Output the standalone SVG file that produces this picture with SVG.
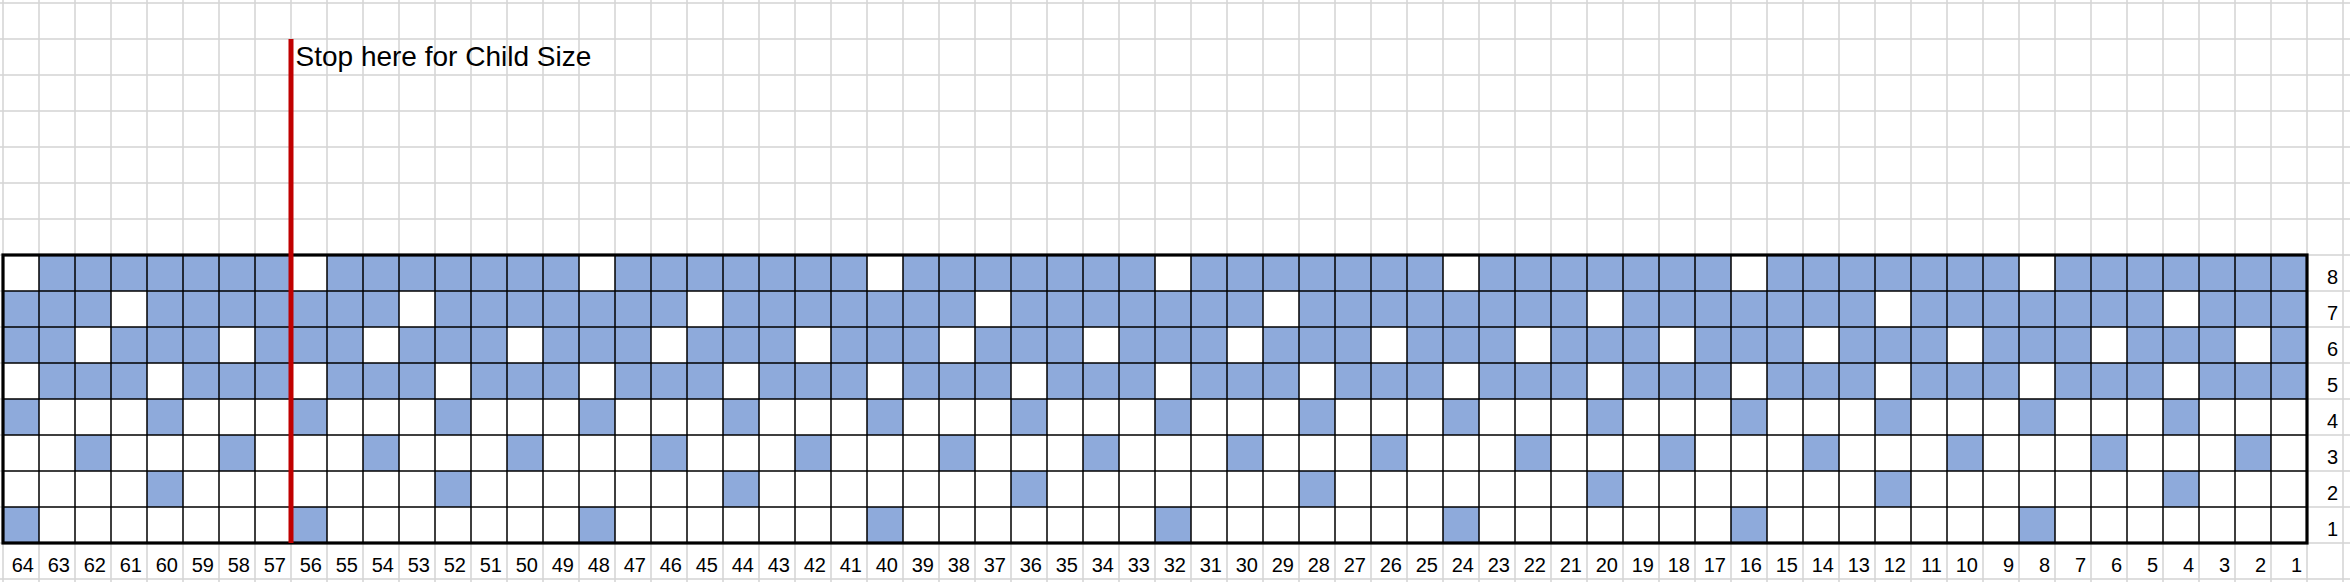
<svg xmlns="http://www.w3.org/2000/svg" width="2350" height="582" viewBox="0 0 2350 582">
<style>
.w{fill:#ffffff}
.b{fill:#8eaadb}
.lbl{font-family:"Liberation Sans",Arial,sans-serif;font-size:20px;fill:#000;text-anchor:end}
.title{font-family:"Liberation Sans",Arial,sans-serif;font-size:28px;fill:#000}
</style>
<defs>
<pattern id="gray" x="0" y="0" width="36" height="36" patternUnits="userSpaceOnUse">
<rect x="2.25" y="0" width="1.5" height="36" fill="#d4d4d4"/>
<rect x="0" y="2.25" width="36" height="1.5" fill="#d4d4d4"/>
</pattern>
<pattern id="blk" x="0" y="0" width="36" height="36" patternUnits="userSpaceOnUse">
<rect x="2.25" y="0" width="1.5" height="36" fill="#000"/>
<rect x="0" y="2.25" width="36" height="1.5" fill="#000"/>
</pattern>
<symbol id="c" viewBox="0 0 36 36"><rect width="36" height="36"/></symbol>
</defs>
<g id="sheet">
<rect width="2350" height="582" fill="#fff"/>
<rect width="2350" height="582" fill="url(#gray)"/>
</g>
<g id="chart">
<rect x="3" y="255" width="2304" height="288" fill="#fff"/>
<rect class="b" x="3" y="255" width="2304" height="144"/>
<g id="top-whites" class="w">
<rect x="3" y="255" width="36" height="36"/><rect x="291" y="255" width="36" height="36"/><rect x="579" y="255" width="36" height="36"/><rect x="867" y="255" width="36" height="36"/><rect x="1155" y="255" width="36" height="36"/><rect x="1443" y="255" width="36" height="36"/><rect x="1731" y="255" width="36" height="36"/><rect x="2019" y="255" width="36" height="36"/>
<rect x="111" y="291" width="36" height="36"/><rect x="399" y="291" width="36" height="36"/><rect x="687" y="291" width="36" height="36"/><rect x="975" y="291" width="36" height="36"/><rect x="1263" y="291" width="36" height="36"/><rect x="1587" y="291" width="36" height="36"/><rect x="1875" y="291" width="36" height="36"/><rect x="2163" y="291" width="36" height="36"/>
<rect x="75" y="327" width="36" height="36"/><rect x="219" y="327" width="36" height="36"/><rect x="363" y="327" width="36" height="36"/><rect x="507" y="327" width="36" height="36"/><rect x="651" y="327" width="36" height="36"/><rect x="795" y="327" width="36" height="36"/><rect x="939" y="327" width="36" height="36"/><rect x="1083" y="327" width="36" height="36"/><rect x="1227" y="327" width="36" height="36"/><rect x="1371" y="327" width="36" height="36"/><rect x="1515" y="327" width="36" height="36"/><rect x="1659" y="327" width="36" height="36"/><rect x="1803" y="327" width="36" height="36"/><rect x="1947" y="327" width="36" height="36"/><rect x="2091" y="327" width="36" height="36"/><rect x="2235" y="327" width="36" height="36"/>
<rect x="3" y="363" width="36" height="36"/><rect x="291" y="363" width="36" height="36"/><rect x="579" y="363" width="36" height="36"/><rect x="867" y="363" width="36" height="36"/><rect x="1155" y="363" width="36" height="36"/><rect x="1443" y="363" width="36" height="36"/><rect x="1731" y="363" width="36" height="36"/><rect x="2019" y="363" width="36" height="36"/>
<rect x="147" y="363" width="36" height="36"/><rect x="435" y="363" width="36" height="36"/><rect x="723" y="363" width="36" height="36"/><rect x="1011" y="363" width="36" height="36"/><rect x="1299" y="363" width="36" height="36"/><rect x="1587" y="363" width="36" height="36"/><rect x="1875" y="363" width="36" height="36"/><rect x="2163" y="363" width="36" height="36"/>
</g>
<g id="bottom-blues" class="b">
<rect x="3" y="399" width="36" height="36"/><rect x="291" y="399" width="36" height="36"/><rect x="579" y="399" width="36" height="36"/><rect x="867" y="399" width="36" height="36"/><rect x="1155" y="399" width="36" height="36"/><rect x="1443" y="399" width="36" height="36"/><rect x="1731" y="399" width="36" height="36"/><rect x="2019" y="399" width="36" height="36"/>
<rect x="147" y="399" width="36" height="36"/><rect x="435" y="399" width="36" height="36"/><rect x="723" y="399" width="36" height="36"/><rect x="1011" y="399" width="36" height="36"/><rect x="1299" y="399" width="36" height="36"/><rect x="1587" y="399" width="36" height="36"/><rect x="1875" y="399" width="36" height="36"/><rect x="2163" y="399" width="36" height="36"/>
<rect x="75" y="435" width="36" height="36"/><rect x="219" y="435" width="36" height="36"/><rect x="363" y="435" width="36" height="36"/><rect x="507" y="435" width="36" height="36"/><rect x="651" y="435" width="36" height="36"/><rect x="795" y="435" width="36" height="36"/><rect x="939" y="435" width="36" height="36"/><rect x="1083" y="435" width="36" height="36"/><rect x="1227" y="435" width="36" height="36"/><rect x="1371" y="435" width="36" height="36"/><rect x="1515" y="435" width="36" height="36"/><rect x="1659" y="435" width="36" height="36"/><rect x="1803" y="435" width="36" height="36"/><rect x="1947" y="435" width="36" height="36"/><rect x="2091" y="435" width="36" height="36"/><rect x="2235" y="435" width="36" height="36"/>
<rect x="147" y="471" width="36" height="36"/><rect x="435" y="471" width="36" height="36"/><rect x="723" y="471" width="36" height="36"/><rect x="1011" y="471" width="36" height="36"/><rect x="1299" y="471" width="36" height="36"/><rect x="1587" y="471" width="36" height="36"/><rect x="1875" y="471" width="36" height="36"/><rect x="2163" y="471" width="36" height="36"/>
<rect x="3" y="507" width="36" height="36"/><rect x="291" y="507" width="36" height="36"/><rect x="579" y="507" width="36" height="36"/><rect x="867" y="507" width="36" height="36"/><rect x="1155" y="507" width="36" height="36"/><rect x="1443" y="507" width="36" height="36"/><rect x="1731" y="507" width="36" height="36"/><rect x="2019" y="507" width="36" height="36"/>
</g>
<rect x="3" y="255" width="2304" height="288" fill="url(#blk)"/>
<rect x="3" y="255" width="2304" height="288" fill="none" stroke="#000" stroke-width="3.2"/>
</g>
<g id="column-labels" class="lbl">
<text x="34" y="572">64</text><text x="70" y="572">63</text><text x="106" y="572">62</text><text x="142" y="572">61</text><text x="178" y="572">60</text><text x="214" y="572">59</text><text x="250" y="572">58</text><text x="286" y="572">57</text><text x="322" y="572">56</text><text x="358" y="572">55</text><text x="394" y="572">54</text><text x="430" y="572">53</text><text x="466" y="572">52</text><text x="502" y="572">51</text><text x="538" y="572">50</text><text x="574" y="572">49</text><text x="610" y="572">48</text><text x="646" y="572">47</text><text x="682" y="572">46</text><text x="718" y="572">45</text><text x="754" y="572">44</text><text x="790" y="572">43</text><text x="826" y="572">42</text><text x="862" y="572">41</text><text x="898" y="572">40</text><text x="934" y="572">39</text><text x="970" y="572">38</text><text x="1006" y="572">37</text><text x="1042" y="572">36</text><text x="1078" y="572">35</text><text x="1114" y="572">34</text><text x="1150" y="572">33</text><text x="1186" y="572">32</text><text x="1222" y="572">31</text><text x="1258" y="572">30</text><text x="1294" y="572">29</text><text x="1330" y="572">28</text><text x="1366" y="572">27</text><text x="1402" y="572">26</text><text x="1438" y="572">25</text><text x="1474" y="572">24</text><text x="1510" y="572">23</text><text x="1546" y="572">22</text><text x="1582" y="572">21</text><text x="1618" y="572">20</text><text x="1654" y="572">19</text><text x="1690" y="572">18</text><text x="1726" y="572">17</text><text x="1762" y="572">16</text><text x="1798" y="572">15</text><text x="1834" y="572">14</text><text x="1870" y="572">13</text><text x="1906" y="572">12</text><text x="1942" y="572">11</text><text x="1978" y="572">10</text><text x="2014" y="572">9</text><text x="2050" y="572">8</text><text x="2086" y="572">7</text><text x="2122" y="572">6</text><text x="2158" y="572">5</text><text x="2194" y="572">4</text><text x="2230" y="572">3</text><text x="2266" y="572">2</text><text x="2302" y="572">1</text>
</g>
<g id="row-labels" class="lbl">
<text x="2338" y="283.5">8</text><text x="2338" y="319.5">7</text><text x="2338" y="355.5">6</text><text x="2338" y="391.5">5</text><text x="2338" y="427.5">4</text><text x="2338" y="463.5">3</text><text x="2338" y="499.5">2</text><text x="2338" y="535.5">1</text>
</g>
<g id="child-size-marker">
<line x1="291" y1="39" x2="291" y2="543" stroke="#c00000" stroke-width="5"/>
<text class="title" x="295.5" y="66">Stop here for Child Size</text>
</g>
</svg>
